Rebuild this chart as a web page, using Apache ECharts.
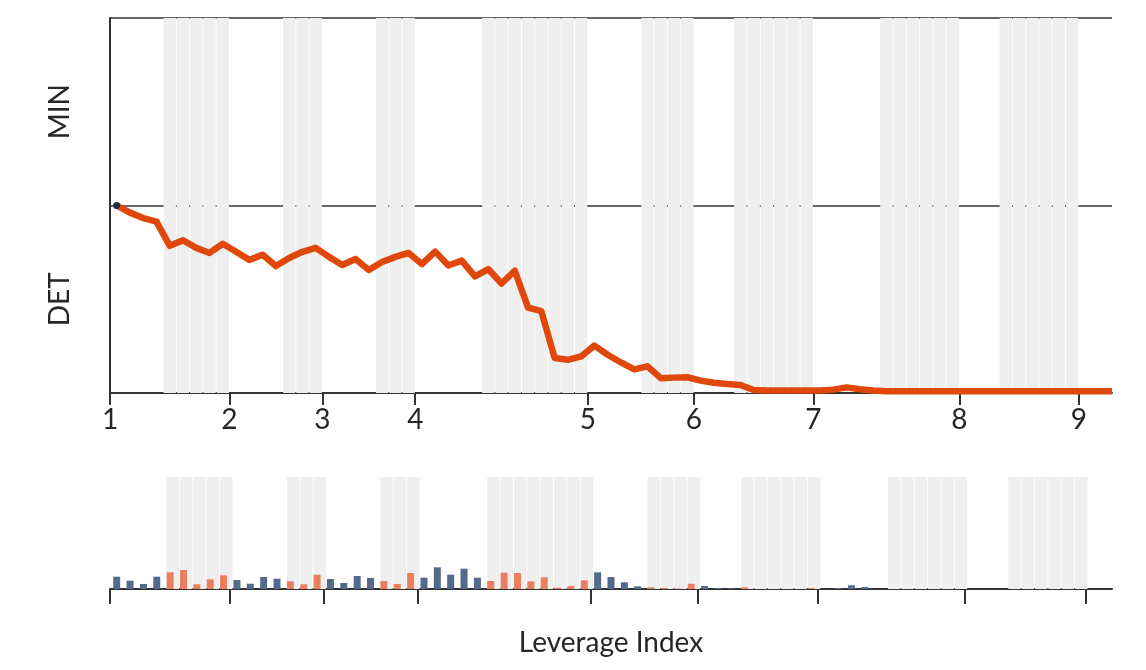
<!DOCTYPE html>
<html>
<head>
<meta charset="utf-8">
<script src="https://cdn.jsdelivr.net/npm/echarts@6/dist/echarts.min.js"></script>
<style>
  html, body { margin: 0; padding: 0; background: #fff; }
  #chart { width: 1146px; height: 670px; }
</style>
</head>
<body>
<div id="chart"></div>
<script>
// tick positions (category boundaries) and their labels
const tickPos = [0, 9, 16, 23, 36, 44, 53, 64, 73]
const tickLabels = ['1', '2', '3', '4', '5', '6', '7', '8', '9']

// shaded ranges, [start, end) in category units
const bandStart = [4, 13, 20, 28, 40, 47, 58, 67]
const bandEnd = [9, 16, 23, 36, 44, 53, 64, 73]

const yCategories = ['DET', 'MIN']

// top line, 0 = bottom axis, 1 = DET/MIN boundary
const detValues = [
  1.0, 0.962, 0.933, 0.914, 0.785, 0.815, 0.774, 0.747, 0.796, 0.753,
  0.71, 0.737, 0.677, 0.72, 0.753, 0.774, 0.726, 0.683, 0.715, 0.656,
  0.699, 0.726, 0.747, 0.688, 0.754, 0.68, 0.706, 0.622, 0.661, 0.584,
  0.652, 0.455, 0.437, 0.187, 0.177, 0.195, 0.253, 0.204, 0.163, 0.126,
  0.142, 0.079, 0.082, 0.084, 0.066, 0.055, 0.048, 0.043, 0.016, 0.013,
  0.013, 0.013, 0.013, 0.013, 0.018, 0.03, 0.02, 0.013, 0.009, 0.009,
  0.009, 0.009, 0.009, 0.009, 0.009, 0.009, 0.009, 0.009, 0.009, 0.009,
  0.009, 0.009, 0.009, 0.009, 0.009, 0.009
]

// bottom bars
const leverageValues = [
  12.3, 8.3, 5, 12.3, 16.7, 19, 4.7, 9.7, 13.7, 9,
  5.3, 12, 10.3, 7.7, 4.7, 14.3, 10, 6, 13, 11,
  8, 5, 16, 11.3, 21.7, 14.3, 20.3, 11.3, 8, 16.3,
  16, 7.7, 11.7, 1.3, 3, 8.7, 16.7, 12, 6.7, 2.7,
  1.7, 1, 0.4, 5.3, 3, 1, 0.7, 1.7, 0, 0,
  0, 0, 1, 0, 1, 3.7, 2, 0, 0, 0,
  0, 0, 0, 0, 0, 0, 0, 0, 0, 0,
  0, 0, 0, 0, 0
]

const BLUE = '#546a8c'
const ORANGE = '#e8805f'
const GREY = '#efefef'
const DARK = '#333'
const TEXT = '#262626'

function inBand(i) {
  for (let k = 0; k < bandStart.length; k++) {
    if (i >= bandStart[k] && i < bandEnd[k]) return true
  }
  return false
}

const bandCells = []
for (let k = 0; k < bandStart.length; k++) {
  for (let i = bandStart[k]; i < bandEnd[k]; i++) bandCells.push(i)
}

const BOTTOM_MAX = 112
const FONT = 'Lato'

const chart = echarts.init(document.getElementById('chart'))

chart.setOption({
  animation: false,
  textStyle: { fontFamily: FONT },
  grid: [
    { left: 110, right: 34, top: 18, bottom: 277 },
    { left: 110, right: 34, top: 477, bottom: 81 }
  ],
  xAxis: [
    {
      type: 'value', gridIndex: 0, min: 0, max: 75.5,
      axisLine: { show: true, lineStyle: { color: DARK, width: 2 } },
      axisTick: { show: true, customValues: tickPos, length: 12, lineStyle: { color: DARK, width: 2 } },
      axisLabel: {
        show: true, customValues: tickPos, margin: 13,
        fontSize: 28, color: TEXT, fontFamily: FONT,
        formatter: v => tickLabels[tickPos.indexOf(v)] || ''
      },
      splitLine: { show: false }
    },
    {
      type: 'value', gridIndex: 1, min: 0, max: 75,
      axisLine: { show: true, lineStyle: { color: DARK, width: 2 } },
      axisTick: { show: true, customValues: tickPos, length: 15, lineStyle: { color: DARK, width: 2 } },
      axisLabel: { show: false },
      splitLine: { show: false },
      name: 'Leverage Index', nameLocation: 'middle', nameGap: 40,
      nameTextStyle: { fontSize: 28, color: TEXT, fontFamily: FONT }
    }
  ],
  yAxis: [
    {
      type: 'value', gridIndex: 0, min: 0, max: 2, interval: 1,
      axisLine: { show: true, lineStyle: { color: DARK, width: 2 } },
      axisTick: { show: false },
      axisLabel: { show: false },
      splitLine: { show: true, lineStyle: { color: DARK, width: 1.6 } }
    },
    {
      type: 'category', gridIndex: 0, data: yCategories, position: 'left',
      axisLine: { show: false }, axisTick: { show: false }, splitLine: { show: false },
      axisLabel: { rotate: 90, margin: 36, fontSize: 28, color: TEXT, fontFamily: FONT }
    },
    {
      type: 'value', gridIndex: 1, min: 0, max: BOTTOM_MAX, show: false,
      splitLine: { show: false }
    }
  ],
  series: [
    {
      type: 'bar', xAxisIndex: 0, yAxisIndex: 0, silent: true, z: 0,
      barWidth: 12.3, barGap: '-100%',
      itemStyle: { color: GREY },
      data: bandCells.map(i => [i + 0.5, 2])
    },
    {
      type: 'line', xAxisIndex: 0, yAxisIndex: 0, z: 5,
      symbol: 'circle', symbolSize: 7,
      lineStyle: { color: '#e0470b', width: 6.5, join: 'round' },
      itemStyle: { color: '#e0470b' },
      data: detValues.map((v, i) => i === 0
        ? { value: [i + 0.5, v], symbol: 'circle', itemStyle: { color: '#1f2d4a' } }
        : { value: [i + 0.5, v], symbol: 'none' })
    },
    {
      type: 'bar', xAxisIndex: 1, yAxisIndex: 2, silent: true, z: 0,
      barWidth: 12.4, barGap: '-100%',
      itemStyle: { color: GREY },
      data: bandCells.map(i => [i + 0.5, BOTTOM_MAX])
    },
    {
      type: 'bar', xAxisIndex: 1, yAxisIndex: 2, z: 3,
      barWidth: 7, barGap: '-100%',
      data: leverageValues.map((v, i) => ({
        value: [i + 0.5, v],
        itemStyle: { color: inBand(i) ? ORANGE : BLUE }
      }))
    }
  ]
})
</script>
</body>
</html>
